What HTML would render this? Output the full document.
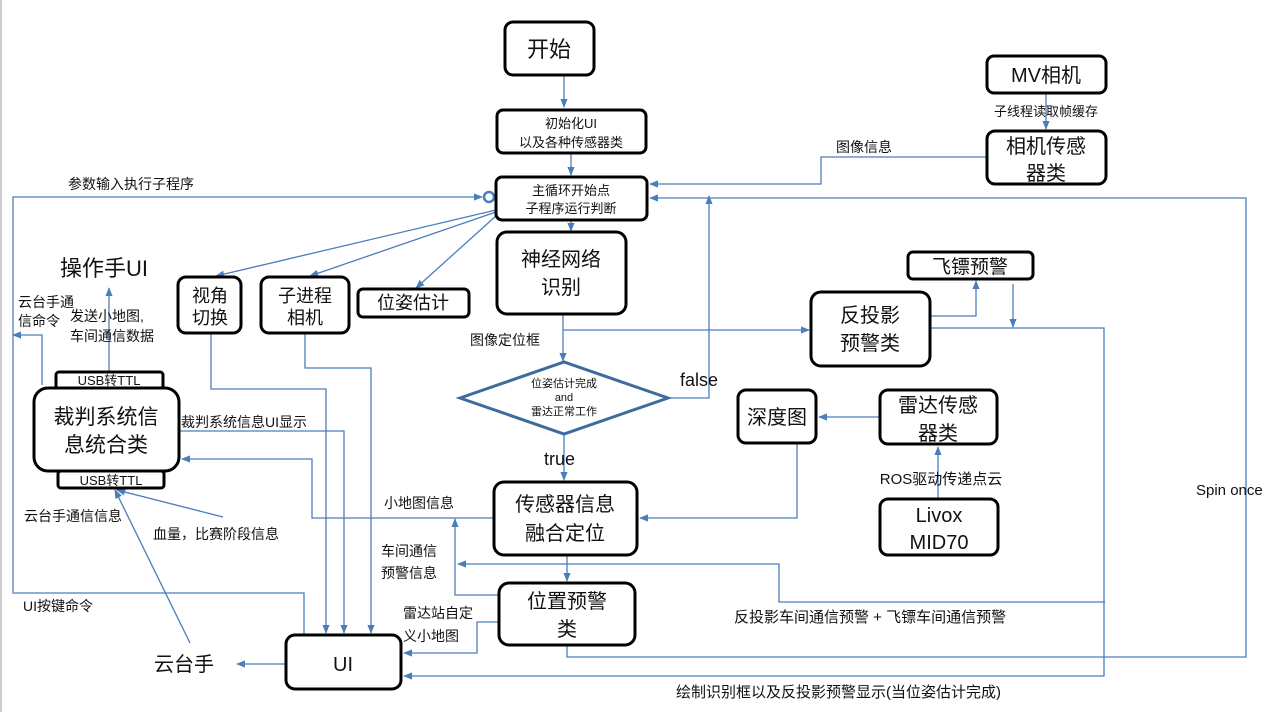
<!DOCTYPE html>
<html><head><meta charset="utf-8"><style>
html,body{margin:0;padding:0;background:#fff;width:1282px;height:712px;overflow:hidden}
svg{display:block}
text{font-family:"Liberation Sans","Noto Sans CJK SC",sans-serif;fill:#111}
.b{fill:#fff;stroke:#000;stroke-width:3}
.l{fill:none;stroke:#4a7ebb;stroke-width:1.3}
</style></head><body>
<svg width="1282" height="712" viewBox="0 0 1282 712">
<defs><marker id="a" viewBox="0 0 10 10" refX="9" refY="5" markerWidth="7" markerHeight="7" orient="auto"><path d="M0,1 L10,5 L0,9z" fill="#4a7ebb"/></marker></defs>
<line x1="1" y1="0" x2="1" y2="712" stroke="#ccc" stroke-width="2"/>
<g class="l" marker-end="url(#a)">
<path d="M564,75 V107"/>
<path d="M571,153 V175"/>
<path d="M571,220 V231"/>
<path d="M563,314 V361"/>
<path d="M563,330 H809"/>
<path d="M668,398 H709 V196"/>
<path d="M564,434 V480"/>
<path d="M987,157 H821 V184 H650"/>
<path d="M1046,93 V129"/>
<path d="M567,645 V657 H1246 V198 H650"/>
<path d="M930,328 H1104 V676 H404"/>
<path d="M930,316 H976 V281"/>
<path d="M1013,284 V327"/>
<path d="M797,443 V518 H640"/>
<path d="M880,417 H819"/>
<path d="M938,499 V447"/>
<path d="M567,555 V581"/>
<path d="M1105,602 H779 V564 H458"/>
<path d="M499,595 H455 V519"/>
<path d="M494,518 H312 V459 H182"/>
<path d="M496,210 L216,276"/>
<path d="M496,212 L310,276"/>
<path d="M497,215 L416,288"/>
<path d="M109,372 V288"/>
<path d="M42,385 V335 H13"/>
<path d="M211,333 V389 H326 V633"/>
<path d="M305,333 V368 H371 V633"/>
<path d="M178,431 H344 V633"/>
<path d="M286,664 H237"/>
<path d="M304,635 V593 H13 V197 H482"/>
<path d="M190,643 L115,490"/>
<path d="M223,517 L117,490"/>
<path d="M499,622 H477 V653 H404"/>
</g>
<circle cx="489" cy="197" r="5" fill="#fff" stroke="#4a7ebb" stroke-width="2.5"/>
<rect class="b" x="505" y="22" width="89" height="53" rx="8"/>
<rect class="b" x="497" y="110" width="149" height="43" rx="6"/>
<rect class="b" x="496" y="177" width="151" height="43" rx="6"/>
<rect class="b" x="497" y="232" width="129" height="82" rx="10"/>
<rect class="b" x="987" y="56" width="119" height="37" rx="7"/>
<rect class="b" x="987" y="131" width="119" height="53" rx="8"/>
<rect class="b" x="178" y="277" width="63" height="56" rx="8"/>
<rect class="b" x="261" y="277" width="88" height="56" rx="8"/>
<rect class="b" x="358" y="289" width="111" height="28" rx="5"/>
<rect class="b" x="908" y="252" width="125" height="27" rx="5"/>
<rect class="b" x="811" y="292" width="119" height="74" rx="10"/>
<rect class="b" x="738" y="390" width="78" height="53" rx="8"/>
<rect class="b" x="880" y="390" width="117" height="54" rx="8"/>
<rect class="b" x="880" y="499" width="118" height="56" rx="8"/>
<rect class="b" x="494" y="482" width="143" height="73" rx="10"/>
<rect class="b" x="499" y="583" width="136" height="62" rx="10"/>
<rect class="b" x="286" y="635" width="115" height="54" rx="9"/>
<rect class="b" x="56" y="372" width="107" height="17" rx="3"/>
<rect class="b" x="58" y="471" width="106" height="17" rx="3"/>
<rect class="b" x="34" y="388" width="145" height="83" rx="14"/>
<polygon points="460,398 564,362 668,398 564,434" fill="#fff" stroke="#3e6a9e" stroke-width="3"/>
<g text-anchor="middle">
<text x="549" y="57" font-size="22">开始</text>
<text x="571" y="128" font-size="13">初始化UI</text>
<text x="571" y="147" font-size="13">以及各种传感器类</text>
<text x="571" y="195" font-size="13">主循环开始点</text>
<text x="571" y="213" font-size="13">子程序运行判断</text>
<text x="561" y="266" font-size="20">神经网络</text>
<text x="561" y="294" font-size="20">识别</text>
<text x="1046" y="82" font-size="20">MV相机</text>
<text x="1046" y="153" font-size="20">相机传感</text>
<text x="1046" y="180" font-size="20">器类</text>
<text x="210" y="302" font-size="18">视角</text>
<text x="210" y="324" font-size="18">切换</text>
<text x="305" y="302" font-size="18">子进程</text>
<text x="305" y="324" font-size="18">相机</text>
<text x="413" y="309" font-size="18">位姿估计</text>
<text x="970" y="273" font-size="19">飞镖预警</text>
<text x="870" y="322" font-size="20">反投影</text>
<text x="870" y="350" font-size="20">预警类</text>
<text x="777" y="424" font-size="20">深度图</text>
<text x="938" y="412" font-size="20">雷达传感</text>
<text x="938" y="440" font-size="20">器类</text>
<text x="939" y="522" font-size="20">Livox</text>
<text x="939" y="549" font-size="20">MID70</text>
<text x="565" y="511" font-size="20">传感器信息</text>
<text x="565" y="540" font-size="20">融合定位</text>
<text x="567" y="608" font-size="20">位置预警</text>
<text x="567" y="636" font-size="20">类</text>
<text x="343" y="671" font-size="20">UI</text>
<text x="109" y="385" font-size="13">USB转TTL</text>
<text x="111" y="485" font-size="13">USB转TTL</text>
<text x="106" y="424" font-size="21">裁判系统信</text>
<text x="106" y="452" font-size="21">息统合类</text>
<text x="564" y="387" font-size="11">位姿估计完成</text>
<text x="564" y="401" font-size="11">and</text>
<text x="564" y="415" font-size="11">雷达正常工作</text>
<text x="1046" y="116" font-size="13">子线程读取帧缓存</text>
<text x="941" y="484" font-size="15">ROS驱动传递点云</text>
</g>
<g font-size="14">
<text x="68" y="189">参数输入执行子程序</text>
<text x="60" y="276" font-size="22">操作手UI</text>
<text x="18" y="307">云台手通</text>
<text x="18" y="326">信命令</text>
<text x="70" y="321">发送小地图,</text>
<text x="70" y="341">车间通信数据</text>
<text x="181" y="427">裁判系统信息UI显示</text>
<text x="24" y="521">云台手通信信息</text>
<text x="153" y="539">血量，比赛阶段信息</text>
<text x="23" y="611">UI按键命令</text>
<text x="154" y="671" font-size="20">云台手</text>
<text x="836" y="152">图像信息</text>
<text x="470" y="345">图像定位框</text>
<text x="680" y="386" font-size="18">false</text>
<text x="544" y="465" font-size="18">true</text>
<text x="384" y="508">小地图信息</text>
<text x="381" y="556">车间通信</text>
<text x="381" y="578">预警信息</text>
<text x="403" y="618">雷达站自定</text>
<text x="403" y="641">义小地图</text>
<text x="734" y="622" font-size="15">反投影车间通信预警 + 飞镖车间通信预警</text>
<text x="676" y="697" font-size="15">绘制识别框以及反投影预警显示(当位姿估计完成)</text>
<text x="1196" y="495" font-size="15">Spin once</text>
</g>
</svg>
</body></html>
